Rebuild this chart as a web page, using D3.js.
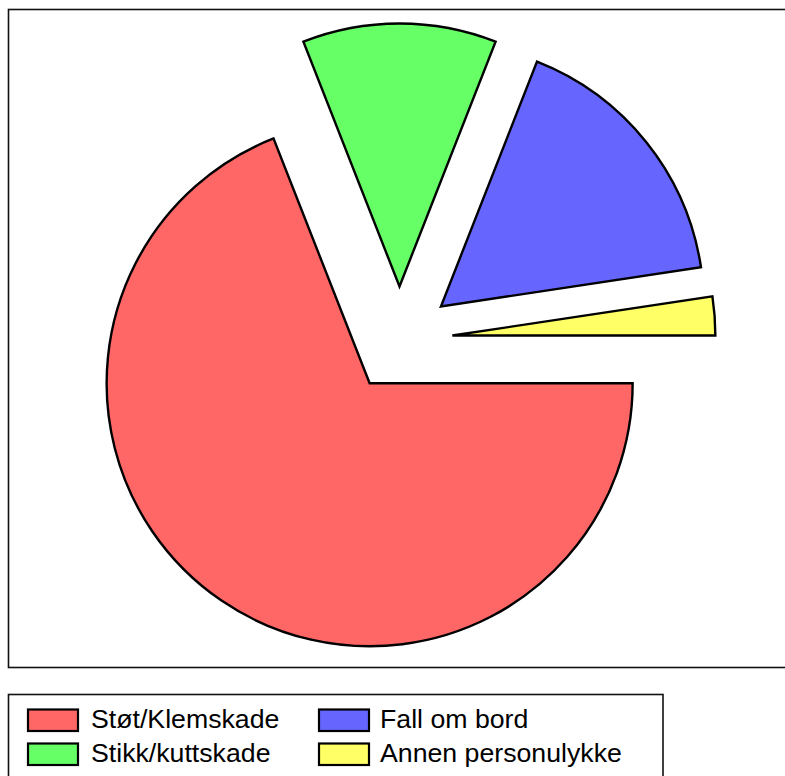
<!DOCTYPE html>
<html>
<head>
<meta charset="utf-8">
<script src="https://cdn.jsdelivr.net/npm/d3@7"></script>
<style>
  body { margin: 0; background: #fff; }
  svg { display: block; font-family: "Liberation Sans", Arial, sans-serif; }
</style>
</head>
<body>
<div id="chart"></div>
<script>
// data
var categories = ["Støt/Klemskade", "Stikk/kuttskade", "Fall om bord", "Annen personulykke"];
var values = [29, 5, 7, 1];
var colors = ["#ff6666", "#66ff66", "#6666ff", "#ffff66"];

var width = 785, height = 776;
var cx = 399.5, cy = 339.5, radius = 263, explode = 53;

var svg = d3.select("#chart")
  .append("svg")
    .attr("width", width)
    .attr("height", height);

// plot frame
svg.append("rect")
  .attr("x", 8.5)
  .attr("y", 9.5)
  .attr("width", 800)
  .attr("height", 658)
  .attr("fill", "none")
  .attr("stroke", "#111")
  .attr("stroke-width", 1.6);

var data = categories.map((c, i) => ({name: c, value: values[i], color: colors[i]}));

// start at 3 o'clock and go clockwise
var pie = d3.pie()
  .sort(null)
  .value(d => d.value)
  .startAngle(Math.PI / 2)
  .endAngle(Math.PI / 2 + 2 * Math.PI);

var arc = d3.arc().innerRadius(0).outerRadius(radius);

var g = svg.append("g")
  .attr("transform", `translate(${cx},${cy})`);

g.selectAll("path")
  .data(pie(data))
  .join("path")
    .attr("transform", function(d) {
      var mid = (d.startAngle + d.endAngle) / 2;
      return `translate(${Math.sin(mid) * explode},${-Math.cos(mid) * explode})`;
    })
    .attr("d", arc)
    .attr("fill", d => d.data.color)
    .attr("stroke", "#000")
    .attr("stroke-width", 2.4)
    .attr("stroke-linejoin", "miter");

// legend
svg.append("rect")
  .attr("x", 8.5)
  .attr("y", 694.5)
  .attr("width", 654.5)
  .attr("height", 100)
  .attr("fill", "none")
  .attr("stroke", "#111")
  .attr("stroke-width", 1.6);

var legend = svg.append("g")
  .selectAll("g")
  .data(data)
  .join("g")
    .attr("transform", (d, i) => `translate(${Math.floor(i / 2) * 291 + 28},${(i % 2) * 34 + 709.5})`);

legend.append("rect")
  .attr("width", 50)
  .attr("height", 21.5)
  .attr("fill", d => d.color)
  .attr("stroke", "#000")
  .attr("stroke-width", 2.2);

legend.append("text")
  .attr("x", (d, i) => i < 2 ? 63 : 61)
  .attr("y", 18.5)
  .attr("font-size", 26.7)
  .attr("fill", "#000")
  .text(d => d.name);
</script>
</body>
</html>
